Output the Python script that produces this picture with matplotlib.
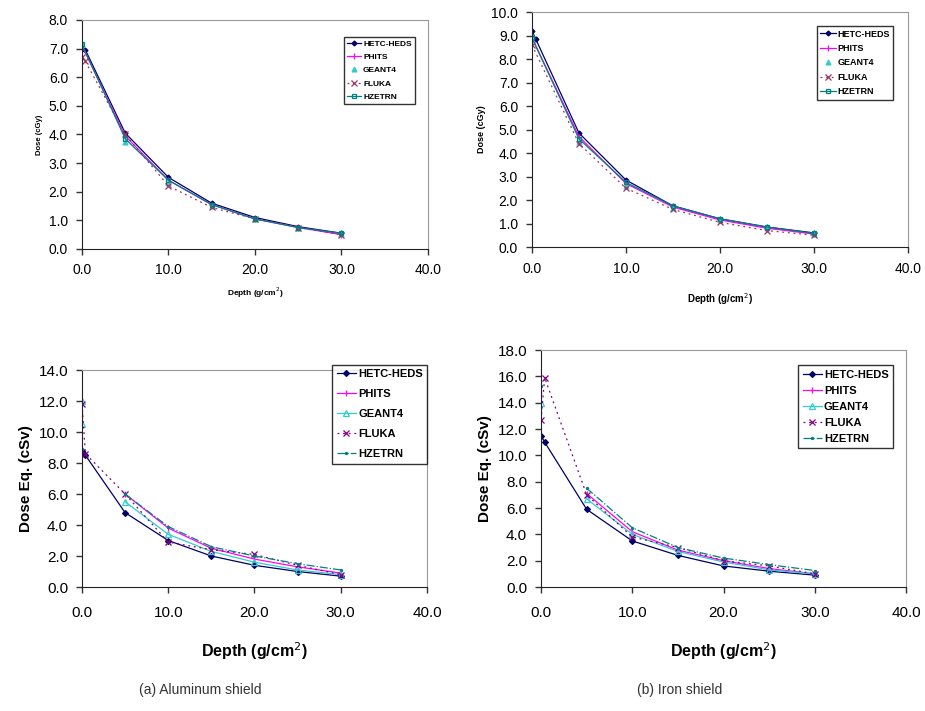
import matplotlib
matplotlib.use("Agg")
import matplotlib.pyplot as plt

nan = float("nan")

plt.rcParams['font.family'] = ['Liberation Sans Narrow', 'Liberation Sans', 'DejaVu Sans']

codes = ["HETC-HEDS", "PHITS", "GEANT4", "FLUKA", "HZETRN"]

# (a) aluminum, absorbed dose (cGy)
al_dose_depth = {
    "HETC-HEDS": [0, 0.4, 5, 10, 15, 20, 25, 30],
    "PHITS":     [0, 5, 10, 15, 20, 25, 30],
    "GEANT4":    [0, 5, 10, 15, 20, 25, 30],
    "FLUKA":     [0, 0.4, 5, 10, 15, 20, 25, 30],
    "HZETRN":    [0, 5, 10, 15, 20, 25, 30],
}
al_dose = {
    "HETC-HEDS": [7.0, 6.95, 4.05, 2.5, 1.6, 1.1, 0.78, 0.55],
    "PHITS":     [7.1, 3.95, 2.4, 1.55, 1.05, 0.75, 0.5],
    "GEANT4":    [7.15, 3.75, 2.3, 1.5, 1.05, 0.75, 0.52],
    "FLUKA":     [6.7, 6.55, 4.0, 2.2, 1.45, 1.05, 0.75, 0.5],
    "HZETRN":    [7.15, 3.85, 2.4, 1.55, 1.05, 0.75, 0.55],
}

# (b) iron, absorbed dose (cGy)
fe_dose_depth = {
    "HETC-HEDS": [0, 0.4, 5, 10, 15, 20, 25, 30],
    "PHITS":     [0, 5, 10, 15, 20, 25, 30],
    "GEANT4":    [0, 5, 10, 15, 20, 25, 30],
    "FLUKA":     [0, 5, 10, 15, 20, 25, 30],
    "HZETRN":    [0, 5, 10, 15, 20, 25, 30],
}
fe_dose = {
    "HETC-HEDS": [9.2, 8.85, 4.85, 2.85, 1.75, 1.2, 0.85, 0.6],
    "PHITS":     [8.9, 4.7, 2.7, 1.7, 1.15, 0.8, 0.55],
    "GEANT4":    [9.0, 4.45, 2.6, 1.65, 1.15, 0.8, 0.55],
    "FLUKA":     [8.6, 4.4, 2.5, 1.6, 1.05, 0.7, 0.5],
    "HZETRN":    [8.9, 4.6, 2.75, 1.75, 1.2, 0.85, 0.58],
}

# (a) aluminum, dose equivalent (cSv); nan = gap in the line
al_eq_depth = {
    "HETC-HEDS": [0, 0.4, 5, 10, 15, 20, 25, 30],
    "PHITS":     [0, 0, 5, 10, 15, 20, 25, 30],
    "GEANT4":    [0, 0, 0, 5, 10, 15, 20, 25, 30],
    "FLUKA":     [0, 0.4, 5, 10, 15, 20, 25, 30],
    "HZETRN":    [0, 0, 5, 10, 15, 20, 25, 30],
}
al_eq = {
    "HETC-HEDS": [8.8, 8.5, 4.8, 3.0, 2.0, 1.4, 1.0, 0.7],
    "PHITS":     [11.2, nan, 6.0, 3.8, 2.5, 1.8, 1.3, 0.9],
    "GEANT4":    [12.0, 10.5, nan, 5.5, 3.4, 2.3, 1.6, 1.1, 0.8],
    "FLUKA":     [11.8, 8.6, 6.0, 2.9, 2.4, 2.1, 1.4, 0.8],
    "HZETRN":    [8.9, nan, 6.0, 3.9, 2.6, 2.0, 1.5, 1.1],
}

# (b) iron, dose equivalent (cSv)
fe_eq_depth = {
    "HETC-HEDS": [0, 0.4, 5, 10, 15, 20, 25, 30],
    "PHITS":     [0, 0, 5, 10, 15, 20, 25, 30],
    "GEANT4":    [0, 0, 5, 10, 15, 20, 25, 30],
    "FLUKA":     [0, 0.4, 5, 10, 15, 20, 25, 30],
    "HZETRN":    [0, 0, 5, 10, 15, 20, 25, 30],
}
fe_eq = {
    "HETC-HEDS": [11.5, 11.0, 5.9, 3.5, 2.4, 1.6, 1.2, 0.9],
    "PHITS":     [14.7, nan, 7.1, 4.2, 2.8, 2.0, 1.4, 1.0],
    "GEANT4":    [14.0, nan, 6.7, 4.0, 2.7, 1.9, 1.3, 1.0],
    "FLUKA":     [12.7, 15.9, 7.0, 3.8, 3.0, 2.0, 1.6, 1.0],
    "HZETRN":    [15.3, nan, 7.5, 4.5, 3.0, 2.2, 1.7, 1.25],
}

# line styles for the upper (dose) and lower (dose eq.) charts
style_top = {
    "HETC-HEDS": dict(color="#000066", ls="-", marker="D", ms=2.5),
    "PHITS":     dict(color="#FF00FF", ls="-", marker="|", ms=4),
    "GEANT4":    dict(color="#33CCCC", ls="none", marker="^", ms=3.5),
    "FLUKA":     dict(color="#993366", ls=(0, (1.5, 3)), marker="x", ms=4),
    "HZETRN":    dict(color="#008080", ls="-", marker="s", ms=2.5, mfc="none"),
}
style_bot = {
    "HETC-HEDS": dict(color="#000066", ls="-", marker="D", ms=3),
    "PHITS":     dict(color="#FF00FF", ls="-", marker="|", ms=5),
    "GEANT4":    dict(color="#33CCCC", ls="-", marker="^", ms=4, mfc="none"),
    "FLUKA":     dict(color="#800080", ls=(0, (1.5, 3)), marker="x", ms=5),
    "HZETRN":    dict(color="#008080", ls="-.", marker=".", ms=3),
}

fig = plt.figure(figsize=(9.25, 7.11), dpi=100)

panels = [
    # rect, x, y, styles, ymax, ystep, ylabel, label size, legend size, legend pos,
    # legend spacing, xlabel pad, tick size, x tick pad
    ([0.0886, 0.6498, 0.3741, 0.3221], al_dose_depth, al_dose, style_top, 8, 1.0,
     "Dose (cGy)", 5.5, 6, (0.745, 0.945), 0.65, 6, 10, 6),
    ([0.5751, 0.6526, 0.4065, 0.3305], fe_dose_depth, fe_dose, style_top, 10, 1.0,
     "Dose (cGy)", 6.5, 6.5, (0.745, 0.96), 0.6, 11, 10, 7),
    ([0.0886, 0.1744, 0.3730, 0.3052], al_eq_depth, al_eq, style_bot, 14, 2.0,
     "Dose Eq. (cSv)", 11, 8, (0.71, 1.05), 0.9, 14, 11, 10),
    ([0.5849, 0.1744, 0.3946, 0.3333], fe_eq_depth, fe_eq, style_bot, 18, 2.0,
     "Dose Eq. (cSv)", 11, 8, (0.69, 0.96), 0.55, 14, 11, 10),
]

for (rect, depths, vals, styles, ymax, ystep, ylab, labsize, legsize, legpos,
     lspace, xpad, ticksize, xtpad) in panels:
    ax = fig.add_axes(rect)
    for c in codes:
        st = styles[c]
        ax.plot(depths[c], vals[c], color=st["color"], linestyle=st["ls"], lw=0.9,
                marker=st["marker"], markersize=st["ms"], mfc=st.get("mfc", st["color"]),
                mew=0.9, label=c)
    ax.set_xlim(0, 40)
    ax.set_ylim(0, ymax)
    ax.set_xticks([0, 10, 20, 30, 40])
    ax.set_xticklabels(["0.0", "10.0", "20.0", "30.0", "40.0"])
    yt = [i * ystep for i in range(int(ymax / ystep) + 1)]
    ax.set_yticks(yt)
    ax.set_yticklabels([f"{v:.1f}" for v in yt])
    ax.tick_params(labelsize=ticksize, length=4, width=1, color="#333333", pad=6)
    ax.tick_params(axis="x", pad=xtpad)
    ax.spines["left"].set_color("#222222")
    ax.spines["bottom"].set_color("#222222")
    ax.spines["top"].set_color("#999999")
    ax.spines["right"].set_color("#999999")
    ax.set_ylabel(ylab, fontsize=labsize, fontweight="bold", family="Liberation Sans")
    ax.set_xlabel("Depth (g/cm$^2$)", fontsize=labsize + 0.5, fontweight="bold",
                  family="Liberation Sans", labelpad=xpad)
    leg = ax.legend(loc="upper left", bbox_to_anchor=legpos,
                    frameon=True, fancybox=False, edgecolor="black", handlelength=1.7,
                    handletextpad=0.2, borderpad=0.4, labelspacing=lspace,
                    prop=dict(family="Liberation Sans", weight="bold", size=legsize))
    leg.get_frame().set_linewidth(1.0)

fig.text(0.216, 0.03, "(a) Aluminum shield", ha="center", va="center", fontsize=10, color="#333333")
fig.text(0.735, 0.03, "(b) Iron shield", ha="center", va="center", fontsize=10, color="#333333")

fig.savefig("out.png", dpi=100)
